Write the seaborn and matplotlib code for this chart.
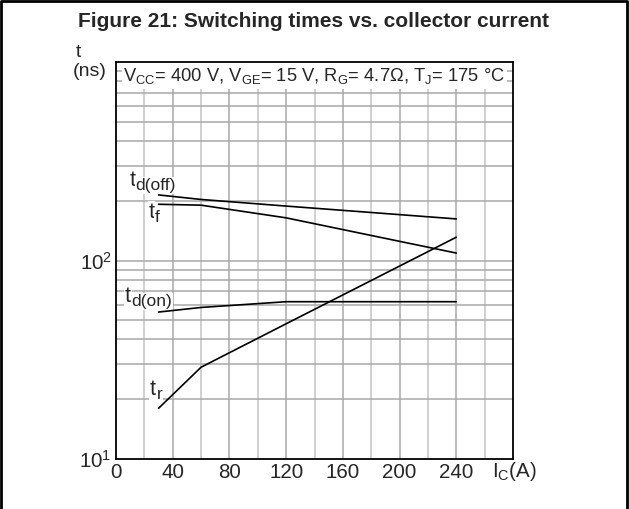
import numpy as np
import pandas as pd
import matplotlib
matplotlib.use("Agg")
import matplotlib.pyplot as plt
from matplotlib.lines import Line2D
from matplotlib.patches import Rectangle
import seaborn as sns

# ---- data ----
ic = [30, 60, 120, 240]
td_off = [214, 203, 188, 162]
tf = [192, 190, 164, 109]
td_on = [55, 58, 62, 62]
tr = [18, 29, 48, 131]
series_names = ["td(off)", "tf", "td(on)", "tr"]
x_ticks = [0, 40, 80, 120, 160, 200, 240]
y_ticks = [10, 100]
y_tick_labels = [r"$10^{1}$", r"$10^{2}$"]

sns.set_theme(style="white")
plt.rcParams["font.family"] = ["Liberation Sans", "DejaVu Sans"]
plt.rcParams["mathtext.fontset"] = "custom"
plt.rcParams["mathtext.rm"] = "Liberation Sans"
plt.rcParams["mathtext.it"] = "Liberation Sans"
plt.rcParams["mathtext.bf"] = "Liberation Sans:bold"

df = pd.DataFrame({
    "Ic": ic * 4,
    "t": td_off + tf + td_on + tr,
    "series": sum([[n] * len(ic) for n in series_names], []),
})

W, H = 629, 509
fig = plt.figure(figsize=(W / 100, H / 100), dpi=100)
ax = fig.add_axes([116 / W, 1 - 459 / H, 397 / W, 397 / H])

sns.lineplot(data=df, x="Ic", y="t", hue="series", units="series", estimator=None,
             palette=["black"] * 4, linewidth=1.2, legend=False, ax=ax, sort=False)
for ln in ax.lines:
    ln.set_zorder(3)

ax.set_yscale("log")
ax.set_xlim(0, 280)
ax.set_ylim(10, 1000)

# grid
ax.set_axisbelow(True)
for xv in range(20, 280, 20):
    ax.axvline(xv, color="#a8a8a8" if xv % 40 == 0 else "#c4c4c4", lw=1.1, zorder=0.5)
for dec in [10, 100]:
    for m in range(1, 10):
        yv = dec * m
        if 10 < yv < 1000:
            ax.axhline(yv, color="#a8a8a8", lw=1.1, zorder=0.5)

ax.set_xticks(x_ticks)
ax.set_xticklabels([str(v) for v in x_ticks], fontsize=14.8)
ax.set_yticks(y_ticks)
ax.set_yticklabels(y_tick_labels, fontsize=14.8)
ax.yaxis.set_minor_locator(matplotlib.ticker.NullLocator())
ax.tick_params(axis="both", length=0, pad=3)
ax.set_xlabel("")
ax.set_ylabel("")
for s in ax.spines.values():
    s.set_color("black")
    s.set_linewidth(1.3)

# white condition box at top
ax.add_patch(Rectangle((0.015, 0.932), 0.97, 0.068, transform=ax.transAxes,
                       facecolor="white", edgecolor="none", zorder=1))
ax.text(0.018, 0.965,
        r"$\mathregular{V_{CC}}$= 400 V, $\mathregular{V_{GE}}$= 15 V, $\mathregular{R_{G}}$= 4.7Ω, $\mathregular{T_{J}}$= 175 °C",
        transform=ax.transAxes, fontsize=13.2, ha="left", va="center", zorder=3)

# curve labels: main letter + larger-than-mathtext subscript
def curve_label(x, y, sub):
    t = ax.text(x, y, "t", fontsize=15.5, ha="left", va="baseline", zorder=1.5,
                bbox=dict(facecolor="white", edgecolor="none", pad=0.5))
    ax.annotate(sub, xy=(1, 0), xycoords=t, xytext=(0.3, 0.5), textcoords="offset points",
                fontsize=12.5, ha="left", va="baseline", zorder=1.5,
                bbox=dict(facecolor="white", edgecolor="none", pad=0.5))

curve_label(9.4, 238, "d(off)")
curve_label(22.8, 163.6, "f")
curve_label(6.3, 61.9, "d(on)")
curve_label(24.0, 21.0, "r")

# figure-level texts
def fx(px):
    return px / W
def fy(py):
    return 1 - py / H

fig.text(fx(314), fy(27), "Figure 21: Switching times vs. collector current",
         fontsize=15, fontweight="bold", ha="center", va="baseline")
fig.text(fx(76), fy(57), "t", fontsize=14, ha="left", va="baseline")
fig.text(fx(72.5), fy(76), "(ns)", fontsize=14, ha="left", va="baseline")
fig.text(fx(492), fy(476.7), r"$\mathregular{I_{C}}$(A)", fontsize=14.8, ha="left", va="baseline")

# outer border (left, top, right)
fig.add_artist(Line2D([fx(1), fx(1), fx(626.5), fx(626.5)], [0, fy(1), fy(1), 0],
                      transform=fig.transFigure, color="black", lw=2))

fig.savefig("out.png", dpi=100)
